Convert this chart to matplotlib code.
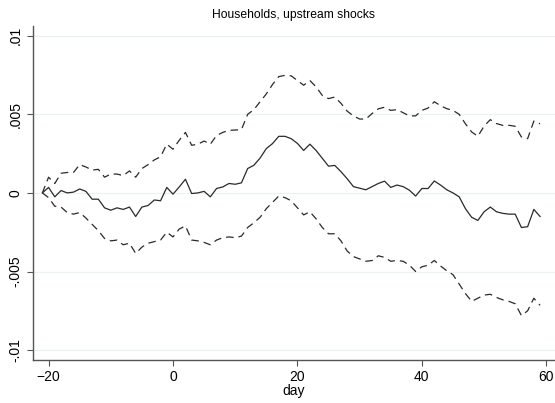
import matplotlib
matplotlib.use("Agg")
import matplotlib.pyplot as plt

# event days
days = list(range(-21, 60))

# point estimate (units of 0.001)
coef = [0.0, 0.35, -0.25, 0.15, 0.0, 0.05, 0.25, 0.1, -0.4, -0.4,
        -0.95, -1.1, -0.95, -1.05, -0.9, -1.5, -0.9, -0.8, -0.45, -0.5,
        0.35, -0.08, 0.38, 0.87, -0.04, 0.0, 0.1, -0.25, 0.28, 0.38,
        0.6, 0.55, 0.64, 1.55, 1.76, 2.22, 2.82, 3.14, 3.6, 3.6,
        3.45, 3.15, 2.7, 3.1, 2.7, 2.2, 1.7, 1.75, 1.35, 0.9,
        0.4, 0.3, 0.2, 0.4, 0.6, 0.75, 0.35, 0.5, 0.4, 0.17,
        -0.2, 0.28, 0.28, 0.76, 0.5, 0.2, 0.0, -0.25, -1.0, -1.55,
        -1.75, -1.2, -0.9, -1.2, -1.3, -1.35, -1.35, -2.2, -2.15, -1.05,
        -1.5]

# upper confidence bound
upper = [0.0, 1.0, 0.6, 1.25, 1.3, 1.3, 1.8, 1.65, 1.45, 1.5,
         1.0, 1.2, 1.2, 1.1, 1.4, 1.0, 1.55, 1.8, 2.1, 2.3,
         3.1, 2.78, 3.35, 3.85, 3.03, 3.1, 3.3, 3.1, 3.65, 3.85,
         3.98, 4.0, 4.03, 5.0, 5.3, 5.8, 6.3, 6.9, 7.4, 7.48,
         7.45, 7.15, 6.85, 7.15, 6.75, 6.2, 6.0, 6.1, 5.7, 5.2,
         4.9, 4.7, 4.7, 5.05, 5.35, 5.45, 5.25, 5.3, 5.1, 4.9,
         4.9, 5.25, 5.4, 5.8, 5.55, 5.36, 5.25, 5.0, 4.4, 3.88,
         3.6, 4.25, 4.66, 4.41, 4.3, 4.3, 4.24, 3.56, 3.45, 4.57,
         4.4]

# lower confidence bound
lower = [0.0, -0.3, -0.85, -0.9, -1.25, -1.35, -1.25, -1.6, -2.0, -2.4,
         -2.9, -3.05, -3.0, -3.3, -3.2, -3.85, -3.45, -3.2, -3.1, -3.0,
         -2.5, -2.8, -2.3, -2.1, -3.0, -3.05, -3.15, -3.3, -3.0, -2.85,
         -2.8, -2.85, -2.75, -2.2, -1.9, -1.55, -1.0, -0.6, -0.2, -0.3,
         -0.5, -0.95, -1.4, -1.2, -1.65, -2.2, -2.6, -2.6, -3.05, -3.7,
         -4.05, -4.2, -4.35, -4.3, -4.0, -4.1, -4.35, -4.3, -4.35, -4.6,
         -5.0, -4.7, -4.6, -4.3, -4.65, -4.95, -5.2, -5.8, -6.4, -6.9,
         -6.7, -6.5, -6.45, -6.65, -6.8, -6.9, -7.05, -7.8, -7.5, -6.7,
         -7.15]

yticks = [-0.01, -0.005, 0, 0.005, 0.01]
ytick_labels = ["-.01", "-.005", "0", ".005", ".01"]
xticks = [-20, 0, 20, 40, 60]

plt.rcParams['font.family'] = ['Liberation Sans', 'DejaVu Sans']

fig = plt.figure(figsize=(5.55, 4.03), dpi=100)
ax = fig.add_axes([0.0595, 0.1067, 0.9405, 0.83])

line_col = '#2a2a2a'
ax.plot(days, [v / 1000 for v in coef], color=line_col, lw=0.9)
ax.plot(days, [v / 1000 for v in upper], color=line_col, lw=0.9, dashes=(6, 4))
ax.plot(days, [v / 1000 for v in lower], color=line_col, lw=0.9, dashes=(6, 4))

ax.set_xlim(-22.5, 61.4)
ax.set_ylim(-0.01063, 0.01065)

ax.set_yticks(yticks)
ax.set_yticklabels(ytick_labels, rotation=90, va='center')
ax.set_xticks(xticks)
ax.tick_params(axis='both', labelsize=10, color='#555555', length=4, width=0.8)
ax.grid(axis='y', color='#eaf2f3', lw=0.9)
ax.set_axisbelow(True)

for s in ['top', 'right']:
    ax.spines[s].set_visible(False)
for s in ['left', 'bottom']:
    ax.spines[s].set_color('#555555')
    ax.spines[s].set_linewidth(1.0)

ax.set_xlabel('day', fontsize=10, labelpad=0)
fig.text(0.529, 0.962, 'Households, upstream shocks', ha='center', va='center', fontsize=8.7)

fig.savefig('out.png', dpi=100)
